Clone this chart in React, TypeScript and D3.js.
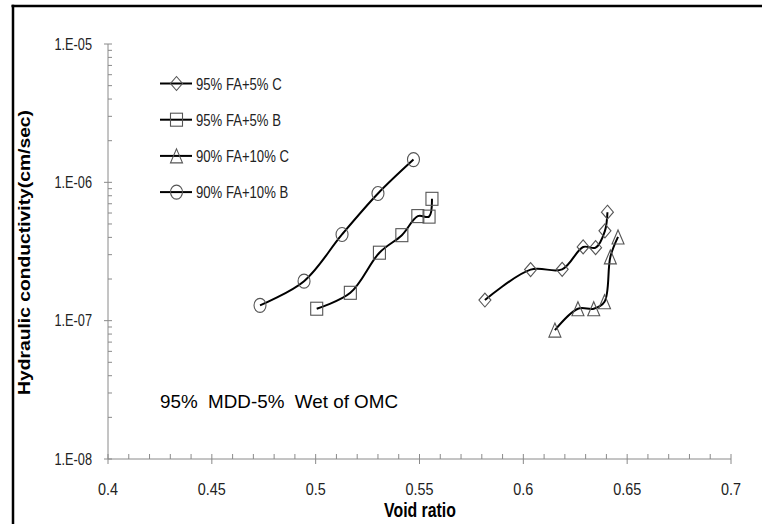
import React from "react";
import * as d3 from "d3";

// series (void ratio, hydraulic conductivity cm/sec)
const voidC95 = [0.5815, 0.6035, 0.6187, 0.6288, 0.6348, 0.6393, 0.6405];
const kC95 = [1.41e-7, 2.34e-7, 2.35e-7, 3.41e-7, 3.37e-7, 4.46e-7, 6.08e-7];
const voidB95 = [0.5005, 0.5167, 0.5307, 0.5415, 0.5492, 0.5546, 0.556];
const kB95 = [1.22e-7, 1.59e-7, 3.1e-7, 4.15e-7, 5.7e-7, 5.65e-7, 7.6e-7];
const voidC90 = [0.6152, 0.6263, 0.6339, 0.6391, 0.6419, 0.6456];
const kC90 = [8.55e-8, 1.22e-7, 1.22e-7, 1.37e-7, 2.89e-7, 4.03e-7];
const voidB90 = [0.4732, 0.4944, 0.5127, 0.53, 0.5471];
const kB90 = [1.29e-7, 1.93e-7, 4.2e-7, 8.3e-7, 1.46e-6];

const seriesNames = ["95% FA+5% C", "95% FA+5% B", "90% FA+10% C", "90% FA+10% B"];
const seriesMarkers = ["diamond", "square", "triangle", "circle"];
const xDomain = [0.4, 0.7];
const yDomain = [1e-8, 1e-5];
const xTitle = "Void ratio";
const yTitle = "Hydraulic conductivity(cm/sec)";
const note = "95%  MDD-5%  Wet of OMC";

const series = [
  { name: seriesNames[0], marker: seriesMarkers[0], x: voidC95, y: kC95 },
  { name: seriesNames[1], marker: seriesMarkers[1], x: voidB95, y: kB95 },
  { name: seriesNames[2], marker: seriesMarkers[2], x: voidC90, y: kC90 },
  { name: seriesNames[3], marker: seriesMarkers[3], x: voidB90, y: kB90 },
];

const W = 762;
const H = 524;
const axisColor = "#8a8a8a";
const markerColor = "#555";
const font = "Liberation Sans, Arial, sans-serif";

// condensed text: regular face squeezed sideways, like the calibri-ish source
function Narrow(props: {
  x: number;
  y: number;
  size: number;
  anchor?: string;
  bold?: boolean;
  sx?: number;
  sy?: number;
  children: React.ReactNode;
}) {
  const { x, y, size, anchor = "start", bold, sx = 0.8, sy = 1.05, children } = props;
  return (
    <text
      transform={`translate(${x},${y}) scale(${sx},${sy})`}
      textAnchor={anchor}
      fontFamily={font}
      fontWeight={bold ? "bold" : "normal"}
      fontSize={size}
      fill={bold ? "#000" : "#222"}
    >
      {children}
    </text>
  );
}

// marker shape, box ~12 wide x 14 tall (source image is a bit stretched)
function Marker({ type, cx, cy }: { type: string; cx: number; cy: number }) {
  const w = 6, h = 7;
  const common = { fill: "none", stroke: markerColor, strokeWidth: 1.1 };
  if (type === "circle") return <ellipse cx={cx} cy={cy} rx={w} ry={h} {...common} />;
  if (type === "square") return <rect x={cx - w} y={cy - h + 0.5} width={2 * w} height={2 * h - 1} {...common} />;
  if (type === "diamond")
    return <path d={`M${cx},${cy - h}L${cx + w},${cy}L${cx},${cy + h}L${cx - w},${cy}Z`} {...common} />;
  return <path d={`M${cx},${cy - h}L${cx + w},${cy + h}L${cx - w},${cy + h}Z`} {...common} />;
}

export default function App() {
  const x = d3.scaleLinear().domain(xDomain).range([108, 731]);
  const y = d3.scaleLog().domain(yDomain).range([459, 44]);

  const xMajor = x.ticks(6);
  const xMinor = x.ticks(30).filter((t) => !xMajor.some((m) => Math.abs(m - t) < 1e-9));
  const yAll = y.ticks();
  const yMajor = yAll.filter((t) => Math.abs(Math.log10(t) - Math.round(Math.log10(t))) < 1e-9);
  const yMinor = yAll.filter((t) => !yMajor.includes(t));

  const fmtY = (d: number) => `1.E-${String(-Math.round(Math.log10(d))).padStart(2, "0")}`;
  const fmtX = (d: number) => String(+d.toFixed(2));

  const line = d3
    .line<[number, number]>()
    .x((d) => x(d[0]))
    .y((d) => y(d[1]))
    .curve(d3.curveCatmullRom.alpha(0.5));

  const x0 = x.range()[0];
  const y0 = y.range()[0];

  return (
    <svg
      width={W}
      height={H}
      viewBox={`0 0 ${W} ${H}`}
      style={{ position: "absolute", left: 0, top: 0, background: "#fff" }}
    >
      <rect x={0} y={0} width={W} height={H} fill="#fff" />
      {/* chart frame */}
      <line x1={11.5} y1={6} x2={W} y2={6} stroke="#000" strokeWidth={2.5} />
      <line x1={13} y1={4.75} x2={13} y2={H} stroke="#000" strokeWidth={2.5} />

      {/* y axis */}
      <line x1={x0} y1={y.range()[1]} x2={x0} y2={y0} stroke={axisColor} />
      {yMajor.map((t) => (
        <g key={"ym" + t}>
          <line x1={x0 - 4} x2={x0 + 4} y1={y(t)} y2={y(t)} stroke={axisColor} />
          <Narrow x={x0 - 16} y={y(t) + 5.5} size={14.5} anchor="end" sx={0.88} sy={1.1}>
            {fmtY(t)}
          </Narrow>
        </g>
      ))}
      {yMinor.map((t) => (
        <line key={"yn" + t} x1={x0} x2={x0 + 4} y1={y(t)} y2={y(t)} stroke={axisColor} />
      ))}

      {/* x axis */}
      <line x1={x0} y1={y0} x2={x.range()[1]} y2={y0} stroke={axisColor} />
      {xMajor.map((t) => (
        <g key={"xm" + t}>
          <line x1={x(t)} x2={x(t)} y1={y0 - 5} y2={y0 + 5} stroke={axisColor} />
          <Narrow x={x(t)} y={495} size={16} anchor="middle" sx={0.9} sy={1.05}>
            {fmtX(t)}
          </Narrow>
        </g>
      ))}
      {xMinor.map((t) => (
        <line key={"xn" + t} x1={x(t)} x2={x(t)} y1={y0 - 5} y2={y0} stroke={axisColor} />
      ))}

      {/* axis titles */}
      <text
        transform="translate(29.5,252.5) rotate(-90)"
        textAnchor="middle"
        fontFamily={font}
        fontWeight="bold"
        fontSize={16}
        textLength={285}
        lengthAdjust="spacingAndGlyphs"
      >
        {yTitle}
      </text>
      <Narrow x={420} y={517} size={18} anchor="middle" bold sx={0.88} sy={1.08}>
        {xTitle}
      </Narrow>

      {/* note */}
      <text
        x={160}
        y={408}
        fontFamily={font}
        fontSize={18.5}
        style={{ whiteSpace: "pre" }}
        textLength={238}
        lengthAdjust="spacingAndGlyphs"
      >
        {note}
      </text>

      {/* series */}
      {series.map((s) => {
        const pts = s.x.map((v, i) => [v, s.y[i]] as [number, number]);
        return (
          <g key={s.name}>
            <path d={line(pts) || ""} fill="none" stroke="#000" strokeWidth={2} />
            {pts.map((p, i) => (
              <Marker key={i} type={s.marker} cx={x(p[0])} cy={y(p[1])} />
            ))}
          </g>
        );
      })}

      {/* legend */}
      {series.map((s, i) => {
        const ly = 83.5 + i * 36.2;
        return (
          <g key={"lg" + s.name}>
            <line x1={160} x2={192} y1={ly} y2={ly} stroke="#000" strokeWidth={2} />
            <Marker type={s.marker} cx={176.5} cy={ly} />
            <Narrow x={196} y={ly + 6} size={16} sx={0.82} sy={1.08}>
              {s.name}
            </Narrow>
          </g>
        );
      })}
    </svg>
  );
}
